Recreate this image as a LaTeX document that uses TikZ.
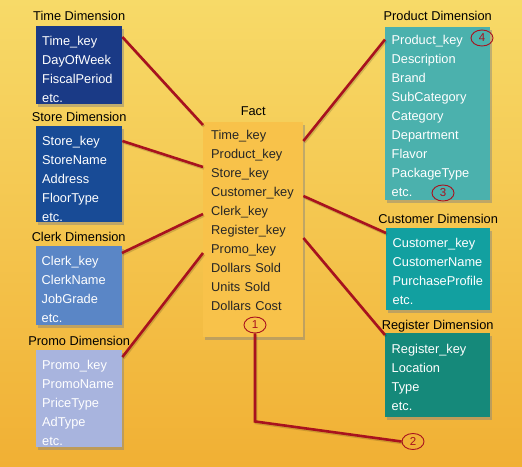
\documentclass[tikz,border=0pt]{standalone}
\usepackage{fontspec}
\setmainfont{Liberation Sans}
\usetikzlibrary{shapes.geometric, shadows, positioning}
\definecolor{bgtop}{HTML}{F7DA68}
\definecolor{bgbot}{HTML}{F1B034}
\definecolor{tblue}{HTML}{1A3A86}
\definecolor{sblue}{HTML}{184B96}
\definecolor{cblue}{HTML}{5A86C6}
\definecolor{pblue}{HTML}{A8B4DE}
\definecolor{factor}{HTML}{F8C24A}
\definecolor{prteal}{HTML}{4BB1AD}
\definecolor{cuteal}{HTML}{12A0A0}
\definecolor{reteal}{HTML}{15897A}
\definecolor{mred}{HTML}{A8121E}
\tikzstyle{dimtable} = [rectangle, anchor=north west, align=left, inner xsep=6pt, inner ysep=10pt, text height=9.3pt, text=white, font=\fontsize{12.8}{19}\selectfont, drop shadow={shadow xshift=2pt, shadow yshift=-3pt, opacity=0.45}]
\tikzstyle{dimtitle} = [inner sep=0pt, text depth=0pt, font=\fontsize{12.8}{19}\selectfont]
\tikzstyle{cable} = [line width=2.6pt, mred, preaction={draw=black, opacity=0.15, line width=2.6pt, transform canvas={shift={(1pt,-1.5pt)}}}]
\tikzstyle{callout} = [ellipse, draw=mred, line width=0.9pt, minimum width=22pt, minimum height=16pt, inner sep=0pt, text=mred, font=\fontsize{11.5}{12}\selectfont]

\begin{document}
\begin{tikzpicture}[x=1pt, y=-1pt]
  \shade [top color=bgtop, bottom color=bgbot] (0,0) rectangle (522,466);
  \useasboundingbox (0,0) rectangle (522,466);
  \node (time) [dimtable, fill=tblue, text width=74pt, text depth=48.7pt] at (36,26) {Time\_key\\DayOfWeek\\FiscalPeriod\\etc.};
  \node (store) [dimtable, fill=sblue, text width=74pt, text depth=66.7pt] at (36,126) {Store\_key\\StoreName\\Address\\FloorType\\etc.};
  \node (clerk) [dimtable, fill=cblue, text width=74pt, text depth=49.7pt] at (35.5,246) {Clerk\_key\\ClerkName\\JobGrade\\etc.};
  \node (promo) [dimtable, fill=pblue, text width=74pt, text depth=67.7pt] at (36,350) {Promo\_key\\PromoName\\PriceType\\AdType\\etc.};
  \node (fact) [dimtable, fill=factor, text=black!85, inner xsep=8pt, inner ysep=8pt, text width=84pt, text depth=189.7pt] at (203,122) {Time\_key\\Product\_key\\Store\_key\\Customer\_key\\Clerk\_key\\Register\_key\\Promo\_key\\Dollars Sold\\Units Sold\\Dollars Cost};
  \node (product) [dimtable, fill=prteal, inner xsep=6.5pt, inner ysep=8pt, text width=92pt, text depth=148.2pt] at (385,26.5) {Product\_key\\Description\\Brand\\SubCategory\\Category\\Department\\Flavor\\PackageType\\etc.};
  \node (customer) [dimtable, fill=cuteal, inner xsep=6.5pt, text width=91pt, text depth=52.7pt] at (386,228) {Customer\_key\\CustomerName\\PurchaseProfile\\etc.};
  \node (register) [dimtable, fill=reteal, inner xsep=6.5pt, inner ysep=11pt, text width=92pt, text depth=52.7pt] at (385,333) {Register\_key\\Location\\Type\\etc.};
  \node (timettl) [dimtitle, above=5pt of time] {Time Dimension};
  \node (storettl) [dimtitle, above=4pt of store] {Store Dimension};
  \node (clerkttl) [dimtitle, above=4pt of clerk] {Clerk Dimension};
  \node (promottl) [dimtitle, above=4pt of promo] {Promo Dimension};
  \node (factttl) [dimtitle, above=6pt of fact] {Fact};
  \node (productttl) [dimtitle, above=6pt of product] {Product Dimension};
  \node (customerttl) [dimtitle, above=4.5pt of customer] {Customer Dimension};
  \node (registerttl) [dimtitle, above=3pt of register] {Register Dimension};
  \node (c1) [callout] at (255,325) {1};
  \node (c2) [callout] at (413,441.5) {2};
  \node (c3) [callout] at (443,193) {3};
  \node (c4) [callout] at (482,38) {4};
  \coordinate (bend) at ([yshift=-88pt]c1.south);
  \draw [cable] ([yshift=-11pt]time.north east) -- ([yshift=-3pt]fact.north west);
  \draw [cable] ([yshift=-15pt]store.north east) -- ([yshift=-45pt]fact.north west);
  \draw [cable] ([yshift=-7pt]clerk.north east) -- ([yshift=-92pt]fact.north west);
  \draw [cable] ([yshift=-7pt]promo.north east) -- ([yshift=-131pt]fact.north west);
  \draw [cable] ([yshift=-19pt]fact.north east) -- ([yshift=-13pt]product.north west);
  \draw [cable] ([yshift=-74pt]fact.north east) -- ([yshift=-5pt]customer.north west);
  \draw [cable] ([yshift=-116pt]fact.north east) -- ([yshift=-2pt]register.north west);
  \draw [cable] (c1.south) -- (bend) -- (c2.west);
\end{tikzpicture}
\end{document}
